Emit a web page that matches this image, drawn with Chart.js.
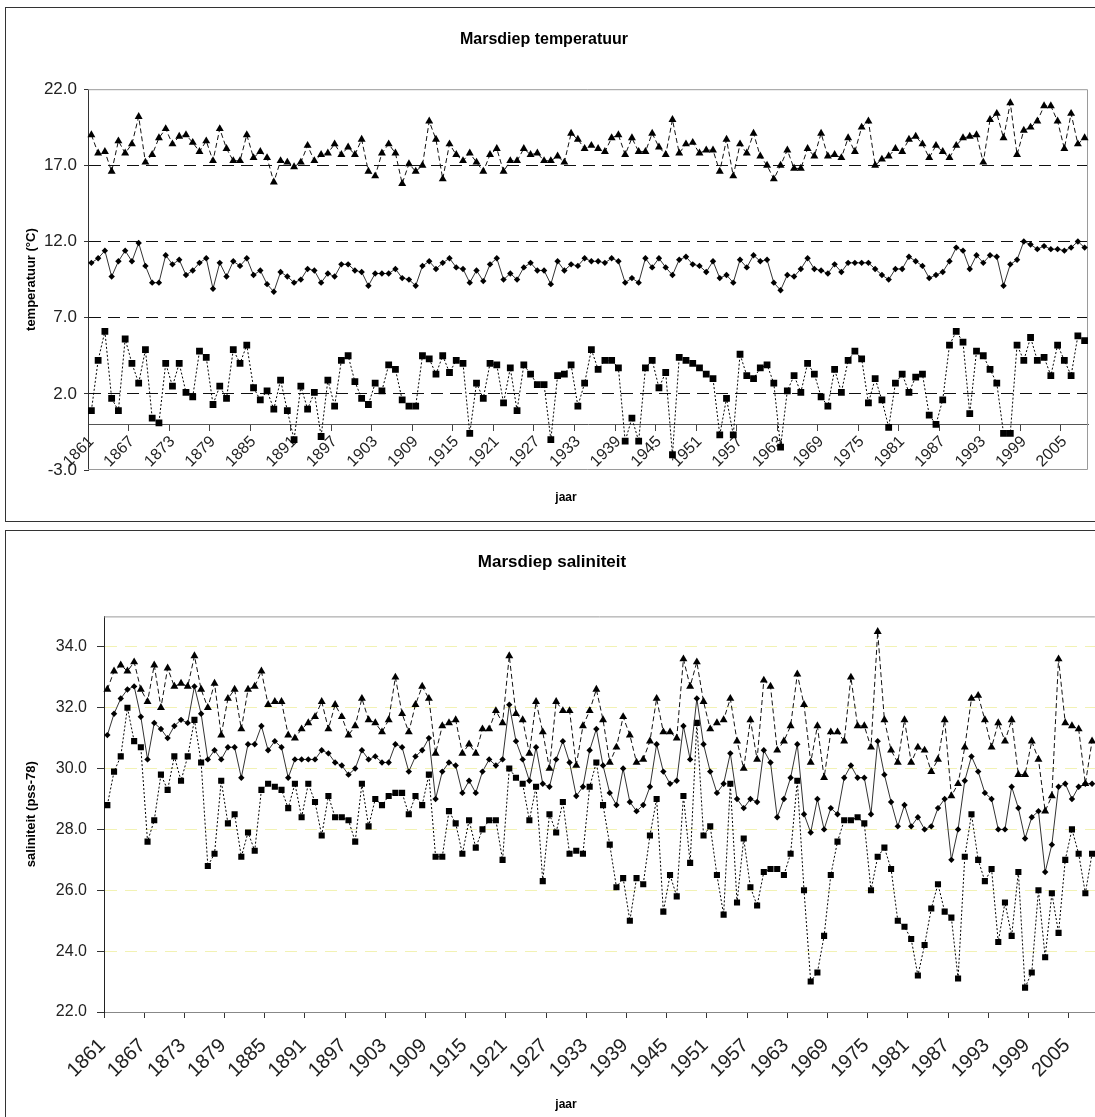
<!DOCTYPE html>
<html>
<head>
<meta charset="utf-8">
<title>Marsdiep temperatuur en saliniteit</title>
<script src="https://cdn.jsdelivr.net/npm/chart.js@4.4.0/dist/chart.umd.min.js"></script>
<style>
  html, body { margin: 0; padding: 0; background: #fff; overflow: hidden; width: 1095px; height: 1117px; }
  .frame { position: absolute; left: 5px; width: 1100px; border: 1px solid #333; box-sizing: border-box; }
  #frameTemp { top: 7px; height: 515px; }
  #frameSal { top: 530px; height: 600px; }
  canvas { position: absolute; left: 0; }
</style>
</head>
<body>
<div class="frame" id="frameTemp"></div>
<div class="frame" id="frameSal"></div>
<canvas id="tempChart" width="1100" height="525" style="top:0"></canvas>
<canvas id="salChart" width="1100" height="587" style="top:530px"></canvas>

<script>
// jaren 1861 - 2008
const years = Array.from({ length: 148 }, (_, i) => String(1861 + i));

const tempTicks = [-3, 2, 7, 12, 17, 22];
const salTicks = [22, 24, 26, 28, 30, 32, 34];

// temperatuur (°C): maximum, gemiddelde, minimum per jaar
const tempMax = [
  19.0, 17.8, 17.9, 16.6, 18.6, 17.8, 18.4, 20.2, 17.2, 17.7, 18.8, 19.4, 18.4, 18.9, 19.0, 18.5, 17.9, 18.6, 17.3, 19.4,
  18.1, 17.3, 17.3, 19.0, 17.5, 17.9, 17.5, 15.9, 17.3, 17.2, 16.9, 17.2, 18.3, 17.3, 17.7, 17.8, 18.4, 17.7, 18.2, 17.7,
  18.7, 16.6, 16.3, 17.8, 18.4, 17.8, 15.8, 17.1, 16.6, 17.0, 19.9, 18.7, 16.1, 18.4, 17.7, 17.3, 17.8, 17.2, 16.6, 17.7,
  18.1, 16.6, 17.3, 17.3, 18.1, 17.7, 17.8, 17.3, 17.3, 17.6, 17.2, 19.1, 18.7, 18.1, 18.3, 18.1, 17.9, 18.8, 19.0, 17.7,
  18.8, 17.9, 17.9, 19.1, 18.2, 17.7, 20.0, 17.8, 18.4, 18.5, 17.8, 18.0, 18.0, 16.6, 18.7, 16.3, 18.4, 17.8, 19.1, 17.6,
  17.0, 16.1, 17.0, 18.0, 16.8, 16.8, 18.1, 17.6, 19.1, 17.6, 17.7, 17.5, 18.8, 17.9, 19.5, 19.9, 17.0, 17.4, 17.6, 18.1,
  17.9, 18.7, 18.9, 18.4, 17.5, 18.3, 17.9, 17.5, 18.3, 18.8, 18.9, 19.0, 17.2, 20.0, 20.4, 18.8, 21.1, 17.7, 19.3, 19.5,
  19.9, 20.9, 20.9, 19.9, 18.1, 20.4, 18.4, 18.8
];
const tempMean = [
  10.6, 10.9, 11.4, 9.7, 10.7, 11.4, 10.7, 11.9, 10.4, 9.3, 9.3, 11.1, 10.5, 10.8, 9.8, 10.1, 10.6, 10.9, 8.9, 10.6,
  9.7, 10.7, 10.4, 10.9, 9.8, 10.1, 9.2, 8.7, 10.0, 9.7, 9.3, 9.5, 10.2, 10.1, 9.3, 9.9, 9.7, 10.5, 10.5, 10.1,
  10.0, 9.1, 9.9, 9.9, 9.9, 10.2, 9.6, 9.5, 9.1, 10.4, 10.7, 10.2, 10.6, 10.9, 10.3, 10.2, 9.3, 10.1, 9.4, 10.5,
  10.9, 9.5, 9.9, 9.5, 10.3, 10.6, 10.1, 10.1, 9.2, 10.7, 10.1, 10.5, 10.4, 10.9, 10.7, 10.7, 10.6, 10.9, 10.7, 9.3,
  9.6, 9.3, 10.9, 10.3, 10.9, 10.3, 9.8, 10.8, 11.0, 10.5, 10.4, 10.0, 10.7, 9.6, 9.8, 9.3, 10.8, 10.3, 11.1, 10.7,
  10.8, 9.3, 8.8, 9.8, 9.7, 10.2, 10.9, 10.2, 10.1, 9.9, 10.5, 10.0, 10.6, 10.6, 10.6, 10.6, 10.2, 9.8, 9.5, 10.2,
  10.2, 11.0, 10.7, 10.4, 9.6, 9.8, 10.0, 10.7, 11.6, 11.4, 10.2, 11.1, 10.6, 11.1, 11.0, 9.1, 10.5, 10.8, 12.0, 11.8,
  11.5, 11.7, 11.5, 11.5, 11.4, 11.6, 12.0, 11.6
];
const tempMin = [
  0.9, 4.2, 6.1, 1.7, 0.9, 5.6, 4.0, 2.7, 4.9, 0.4, 0.1, 4.0, 2.5, 4.0, 2.1, 1.8, 4.8, 4.4, 1.3, 2.5,
  1.7, 4.9, 4.0, 5.2, 2.4, 1.6, 2.2, 1.0, 2.9, 0.9, -1.0, 2.5, 1.0, 2.1, -0.8, 2.9, 1.2, 4.2, 4.5, 2.8,
  1.7, 1.3, 2.7, 2.2, 3.9, 3.6, 1.6, 1.2, 1.2, 4.5, 4.3, 3.3, 4.5, 3.4, 4.2, 4.0, -0.6, 2.7, 1.7, 4.0,
  3.9, 1.4, 3.7, 0.9, 3.9, 3.3, 2.6, 2.6, -1.0, 3.2, 3.3, 3.9, 1.2, 2.7, 4.9, 3.6, 4.2, 4.2, 3.7, -1.1,
  0.4, -1.1, 3.7, 4.2, 2.4, 3.4, -2.0, 4.4, 4.2, 4.0, 3.7, 3.3, 3.0, -0.7, 1.7, -0.7, 4.6, 3.2, 3.0, 3.7,
  3.9, 2.7, -1.5, 2.2, 3.2, 2.1, 4.0, 3.3, 1.8, 1.2, 3.6, 2.1, 4.2, 4.8, 4.3, 1.4, 3.0, 1.6, -0.2, 2.7,
  3.3, 2.1, 3.1, 3.3, 0.6, 0.0, 1.6, 5.2, 6.1, 5.4, 0.7, 4.8, 4.5, 3.6, 2.7, -0.6, -0.6, 5.2, 4.2, 5.7,
  4.2, 4.4, 3.2, 5.2, 4.2, 3.2, 5.8, 5.5
];

// saliniteit (pss-78): maximum, gemiddelde, minimum per jaar
const salMax = [
  32.6, 33.2, 33.4, 33.2, 33.5, 32.6, 32.2, 33.4, 32.0, 33.3, 32.7, 32.8, 32.7, 33.7, 32.6, 32.0, 32.8, 31.1, 32.3, 32.6,
  31.3, 32.6, 32.7, 33.2, 32.1, 32.2, 32.2, 31.1, 31.0, 31.3, 31.5, 31.7, 32.2, 31.3, 32.1, 31.7, 31.1, 31.4, 32.3, 31.6,
  31.5, 31.2, 31.6, 33.0, 31.8, 31.2, 32.1, 32.7, 32.3, 30.5, 31.4, 31.5, 31.6, 30.5, 30.8, 30.5, 31.3, 31.3, 31.9, 31.5,
  33.7, 31.8, 31.6, 30.5, 32.2, 31.2, 30.0, 32.2, 31.9, 31.9, 30.1, 31.4, 31.9, 32.6, 31.6, 30.2, 30.7, 31.7, 31.1, 30.2,
  30.3, 30.9, 32.3, 31.2, 31.2, 31.0, 33.6, 32.7, 33.5, 32.2, 31.3, 31.5, 31.6, 32.3, 30.9, 30.0, 31.6, 30.3, 32.9, 32.7,
  30.6, 30.9, 31.4, 33.1, 32.1, 30.2, 31.4, 29.7, 31.2, 31.2, 30.9, 33.0, 31.4, 31.4, 30.7, 34.5, 31.6, 30.6, 30.2, 31.6,
  30.2, 30.7, 30.6, 29.9, 30.3, 31.6, 29.1, 29.5, 30.7, 32.3, 32.4, 31.6, 30.7, 31.5, 30.9, 31.6, 29.8, 29.8, 30.9, 30.3,
  28.6, 29.1, 33.6, 31.5, 31.4, 31.3, 29.5, 30.9
];
const salMean = [
  31.1, 31.8, 32.3, 32.6, 32.7, 31.7, 30.3, 31.5, 31.3, 31.0, 31.4, 31.6, 31.5, 32.7, 31.8, 30.3, 30.6, 30.3, 30.7, 30.7,
  29.7, 30.8, 30.8, 31.4, 30.6, 30.9, 30.7, 29.7, 30.3, 30.3, 30.3, 30.3, 30.6, 30.5, 30.2, 30.1, 29.8, 30.0, 30.6, 30.3,
  30.4, 30.2, 30.2, 30.8, 30.7, 29.9, 30.4, 30.6, 31.0, 29.0, 29.9, 30.2, 30.1, 29.2, 29.6, 29.2, 29.9, 30.3, 30.1, 30.3,
  32.1, 30.9, 30.3, 29.6, 30.7, 29.5, 29.4, 30.3, 30.9, 30.2, 29.1, 29.4, 30.6, 31.3, 30.1, 29.2, 28.8, 30.0, 28.9, 28.6,
  28.8, 29.4, 30.8, 29.9, 29.5, 29.6, 31.4, 30.3, 32.3, 30.8, 29.9, 29.2, 29.5, 30.5, 29.0, 28.7, 29.0, 28.9, 30.6, 30.2,
  28.4, 29.0, 29.7, 30.8, 28.5, 27.9, 29.0, 28.0, 28.7, 28.5, 29.7, 30.1, 29.7, 29.7, 28.5, 30.9, 29.8, 28.9, 28.1, 28.8,
  28.1, 28.4, 28.0, 28.1, 28.7, 29.0, 27.0, 28.0, 29.6, 30.4, 29.9, 29.2, 29.0, 28.0, 28.0, 29.4, 28.7, 27.7, 28.4, 28.6,
  26.6, 27.5, 29.4, 29.5, 29.0, 29.4, 29.5, 29.5
];
const salMin = [
  28.8, 29.9, 30.4, 32.0, 30.9, 30.7, 27.6, 28.3, 29.8, 29.3, 30.4, 29.6, 30.4, 31.6, 30.2, 26.8, 27.2, 29.6, 28.2, 28.5,
  27.1, 27.9, 27.3, 29.3, 29.5, 29.4, 29.3, 28.7, 29.5, 28.4, 29.5, 28.9, 27.8, 29.1, 28.4, 28.4, 28.3, 27.6, 29.5, 28.1,
  29.0, 28.8, 29.1, 29.2, 29.2, 28.5, 29.1, 28.8, 29.8, 27.1, 27.1, 28.6, 28.2, 27.2, 28.3, 27.4, 28.0, 28.3, 28.3, 27.0,
  30.0, 29.7, 29.5, 28.3, 29.4, 26.3, 28.5, 27.9, 28.9, 27.2, 27.3, 27.2, 29.4, 30.2, 28.8, 27.5, 26.1, 26.4, 25.0, 26.4,
  26.2, 27.8, 29.0, 25.3, 26.5, 25.8, 29.1, 26.9, 31.5, 27.8, 28.1, 26.5, 25.2, 29.5, 25.6, 27.7, 26.1, 25.5, 26.6, 26.7,
  26.7, 26.5, 27.2, 29.6, 26.0, 23.0, 23.3, 24.5, 26.5, 27.6, 28.3, 28.3, 28.4, 28.2, 26.0, 27.1, 27.4, 26.7, 25.0, 24.8,
  24.4, 23.2, 24.2, 25.4, 26.2, 25.3, 25.1, 23.1, 27.1, 28.5, 27.0, 26.3, 26.7, 24.3, 25.6, 24.5, 26.6, 22.8, 23.3, 26.0,
  23.8, 25.9, 24.6, 27.0, 28.0, 27.2, 25.9, 27.2
];

const FONT = "'Liberation Sans', Arial, sans-serif";
Chart.defaults.font.family = FONT;
Chart.defaults.color = '#000';

// lijn + markerstijl per reeks: max = driehoek/streep, gem = ruit/doorgetrokken, min = vierkant/stippel
function reeks(data, soort, schaal) {
  const stijl = {
    max: { pointStyle: 'triangle', pointRadius: 4.6 * schaal, borderDash: [5, 3], borderColor: '#111' },
    gem: { pointStyle: 'rectRot', pointRadius: 3.2 * schaal, borderDash: [], borderColor: '#333' },
    min: { pointStyle: 'rect', pointRadius: 4.8 * schaal, borderDash: [2, 2], borderColor: '#000' }
  }[soort];
  return Object.assign({
    data: data,
    borderWidth: 1,
    backgroundColor: '#000',
    pointBackgroundColor: '#000',
    pointBorderColor: '#000',
    pointBorderWidth: 0,
    tension: 0,
    fill: false
  }, stijl);
}

// grijs kader om het plotvlak en het bijschrift van de x-as
const plotKader = {
  id: 'plotKader',
  beforeDatasetsDraw(chart, args, opts) {
    const { ctx, chartArea: a } = chart;
    ctx.save();
    ctx.strokeStyle = '#9a9a9a';
    ctx.lineWidth = 1;
    ctx.beginPath();
    ctx.moveTo(a.left, a.top + 0.5);
    ctx.lineTo(a.right - 0.5, a.top + 0.5);
    if (opts.rechts) ctx.lineTo(a.right - 0.5, a.bottom - 0.5);
    if (opts.onderkant) ctx.lineTo(a.left, a.bottom - 0.5);
    ctx.stroke();
    ctx.restore();
  },
  afterDraw(chart, args, opts) {
    if (!opts.bijschrift) return;
    const { ctx } = chart;
    ctx.save();
    ctx.fillStyle = '#000';
    ctx.font = 'bold 12px ' + FONT;
    ctx.textAlign = 'center';
    ctx.textBaseline = 'middle';
    ctx.fillText(opts.bijschrift, opts.x, opts.y);
    ctx.restore();
  }
};

const elkeZesde = (ctx, kleur) => (ctx.index !== undefined && ctx.index % 6 === 0 ? kleur : 'rgba(0,0,0,0)');

// x-as mag het plotvlak niet inkrimpen voor de schuine labels
function vasteHoogte(h) {
  return s => { s.height = h; s.paddingLeft = 0; s.paddingRight = 0; };
}

// Marsdiep temperatuur
new Chart(document.getElementById('tempChart'), {
  type: 'line',
  data: {
    labels: years,
    datasets: [reeks(tempMax, 'max', 1), reeks(tempMean, 'gem', 1), reeks(tempMin, 'min', 1)]
  },
  options: {
    responsive: false,
    devicePixelRatio: 1,
    animation: false,
    events: [],
    layout: { padding: { left: 0, right: 12, top: 0, bottom: 55 } },
    plugins: {
      legend: { display: false },
      tooltip: { enabled: false },
      title: {
        display: true,
        text: 'Marsdiep temperatuur',
        font: { size: 16, weight: 'bold' },
        color: '#000',
        padding: { top: 30, bottom: 40 }
      },
      plotKader: { onderkant: true, rechts: true, bijschrift: 'jaar', x: 566, y: 498 }
    },
    scales: {
      x: {
        type: 'category',
        position: { y: 0 },
        offset: true,
        afterFit: vasteHoogte(80),
        grid: {
          offset: true,
          drawOnChartArea: false,
          tickLength: 6,
          tickColor: ctx => elkeZesde(ctx, '#444')
        },
        border: { color: '#555', width: 1 },
        ticks: {
          autoSkip: false,
          minRotation: 45,
          maxRotation: 45,
          padding: 2,
          font: { size: 16 },
          color: '#222',
          callback: (v, i) => (i % 6 === 0 ? years[i] : '')
        }
      },
      y: {
        min: -3,
        max: 22,
        afterBuildTicks: s => { s.ticks = tempTicks.map(v => ({ value: v })); },
        afterFit: s => { s.width = 88; },
        grid: {
          color: ctx => (ctx.tick && ctx.tick.value > -3 && ctx.tick.value < 22 ? '#111' : 'rgba(0,0,0,0)'),
          tickColor: '#333',
          tickLength: 4
        },
        border: { color: '#333', dash: [12, 7] },
        ticks: {
          padding: 7,
          font: { size: 17 },
          color: '#222',
          callback: v => v.toFixed(1)
        },
        title: {
          display: true,
          text: 'temperatuur (°C)',
          font: { size: 13, weight: 'bold' },
          padding: { top: 24, bottom: 0 }
        }
      }
    }
  },
  plugins: [plotKader]
});

// Marsdiep saliniteit
new Chart(document.getElementById('salChart'), {
  type: 'line',
  data: {
    labels: years,
    datasets: [reeks(salMax, 'max', 1), reeks(salMean, 'gem', 1), reeks(salMin, 'min', 0.9)]
  },
  options: {
    responsive: false,
    devicePixelRatio: 1,
    animation: false,
    events: [],
    layout: { padding: { left: 0, right: -4, top: 0, bottom: 0 } },
    plugins: {
      legend: { display: false },
      tooltip: { enabled: false },
      title: {
        display: true,
        text: 'Marsdiep saliniteit',
        font: { size: 17, weight: 'bold' },
        color: '#000',
        padding: { top: 22, bottom: 44 }
      },
      plotKader: { onderkant: false, rechts: false, bijschrift: 'jaar', x: 566, y: 575 }
    },
    scales: {
      x: {
        type: 'category',
        offset: true,
        afterFit: vasteHoogte(105),
        grid: {
          offset: true,
          drawOnChartArea: false,
          tickLength: 6,
          tickColor: ctx => elkeZesde(ctx, '#333')
        },
        border: { color: '#888', width: 1 },
        ticks: {
          autoSkip: false,
          minRotation: 45,
          maxRotation: 45,
          padding: 16,
          labelOffset: -5,
          font: { size: 20 },
          color: '#222',
          callback: (v, i) => (i % 6 === 0 ? years[i] : '')
        }
      },
      y: {
        min: 22,
        max: 35,
        afterBuildTicks: s => { s.ticks = salTicks.map(v => ({ value: v })); },
        afterFit: s => { s.width = 104; },
        grid: {
          color: ctx => (ctx.tick && ctx.tick.value > 22 ? '#f2f2b4' : 'rgba(0,0,0,0)'),
          tickColor: '#333',
          tickLength: 7
        },
        border: { color: '#222', dash: [12, 8] },
        ticks: {
          padding: 10,
          font: { size: 16 },
          color: '#222',
          callback: v => v.toFixed(1)
        },
        title: {
          display: true,
          text: 'saliniteit (pss-78)',
          font: { size: 13, weight: 'bold' },
          padding: { top: 24, bottom: 0 }
        }
      }
    }
  },
  plugins: [plotKader]
});
</script>
</body>
</html>
